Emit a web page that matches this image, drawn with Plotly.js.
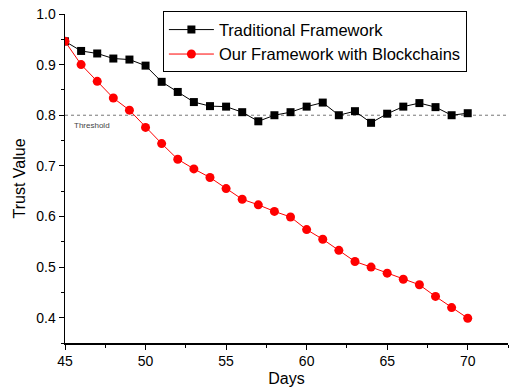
<!DOCTYPE html>
<html>
<head>
<meta charset="utf-8">
<script src="https://cdn.plot.ly/plotly-3.0.1.min.js"></script>
<style>html,body{margin:0;padding:0;background:#fff}#chart{width:512px;height:390px}</style>
</head>
<body>
<div id="chart"></div>
<script>
var days = [45,46,47,48,49,50,51,52,53,54,55,56,57,58,59,60,61,62,63,64,65,66,67,68,69,70];
var traditional = [0.946,0.927,0.922,0.912,0.910,0.898,0.866,0.846,0.826,0.818,0.817,0.806,0.788,0.800,0.806,0.817,0.825,0.800,0.808,0.785,0.803,0.817,0.824,0.816,0.800,0.804];
var blockchain = [0.946,0.900,0.867,0.834,0.810,0.776,0.744,0.713,0.694,0.677,0.655,0.634,0.623,0.610,0.599,0.574,0.555,0.533,0.511,0.500,0.488,0.476,0.465,0.442,0.420,0.399];
var seriesNames = ["Traditional Framework","Our Framework with Blockchains"];
var thresholdValue = 0.8;
var thresholdLabel = "Threshold";
var xTitle = "Days";
var yTitle = "Trust Value";

var traces = [
  {x: days, y: traditional, name: seriesNames[0], type: 'scatter', mode: 'lines+markers',
   line: {color: '#000000', width: 1}, marker: {symbol: 'square', size: 8, color: '#000000'}},
  {x: days, y: blockchain, name: seriesNames[1], type: 'scatter', mode: 'lines+markers',
   line: {color: '#ff0000', width: 1}, marker: {symbol: 'circle', size: 9, color: '#ff0000'}}
];

var layout = {
  width: 512, height: 390,
  margin: {l: 65, r: 4, t: 14, b: 47},
  paper_bgcolor: '#ffffff', plot_bgcolor: '#ffffff',
  font: {family: 'Arial, Liberation Sans, sans-serif', color: '#000000'},
  showlegend: true,
  legend: {x: 0.221, y: 1.008, xanchor: 'left', yanchor: 'top', bgcolor: '#ffffff',
           bordercolor: '#000000', borderwidth: 1, font: {size: 16.5}, itemwidth: 45, tracegroupgap: 0},
  xaxis: {range: [45, 72.5], tickvals: [45,50,55,60,65,70], ticks: 'outside', ticklen: 5, tickwidth: 1,
          tickcolor: '#000', showline: true, linecolor: '#000', linewidth: 1.5, showgrid: false, zeroline: false,
          tickfont: {size: 14}, title: {text: xTitle, font: {size: 16}, standoff: 4},
          minor: {tickvals: [47.5,52.5,57.5,62.5,67.5,72.5], ticks: 'outside', ticklen: 3, tickcolor: '#000'}},
  yaxis: {range: [0.35, 1.0], tickvals: [0.4,0.5,0.6,0.7,0.8,0.9,1.0], ticktext: ['0.4','0.5','0.6','0.7','0.8','0.9','1.0'],
          ticks: 'outside', ticklen: 5, tickwidth: 1,
          tickcolor: '#000', showline: true, linecolor: '#000', linewidth: 1.5, showgrid: false, zeroline: false,
          tickfont: {size: 14}, title: {text: yTitle, font: {size: 16}, standoff: 6},
          minor: {tickvals: [0.35,0.45,0.55,0.65,0.75,0.85,0.95], ticks: 'outside', ticklen: 3, tickcolor: '#000'}},
  shapes: [{type: 'line', xref: 'paper', x0: 0, x1: 1, yref: 'y', y0: thresholdValue, y1: thresholdValue,
            line: {color: '#777777', width: 1, dash: 'dot'}, layer: 'below'}],
  annotations: [{xref: 'x', x: 45, yref: 'y', y: thresholdValue, xanchor: 'left', yanchor: 'top',
                 xshift: 7, yshift: -4, text: thresholdLabel, showarrow: false, font: {size: 8, color: '#444444'}}]
};

Plotly.newPlot('chart', traces, layout, {displayModeBar: false, staticPlot: true});
</script>
</body>
</html>
